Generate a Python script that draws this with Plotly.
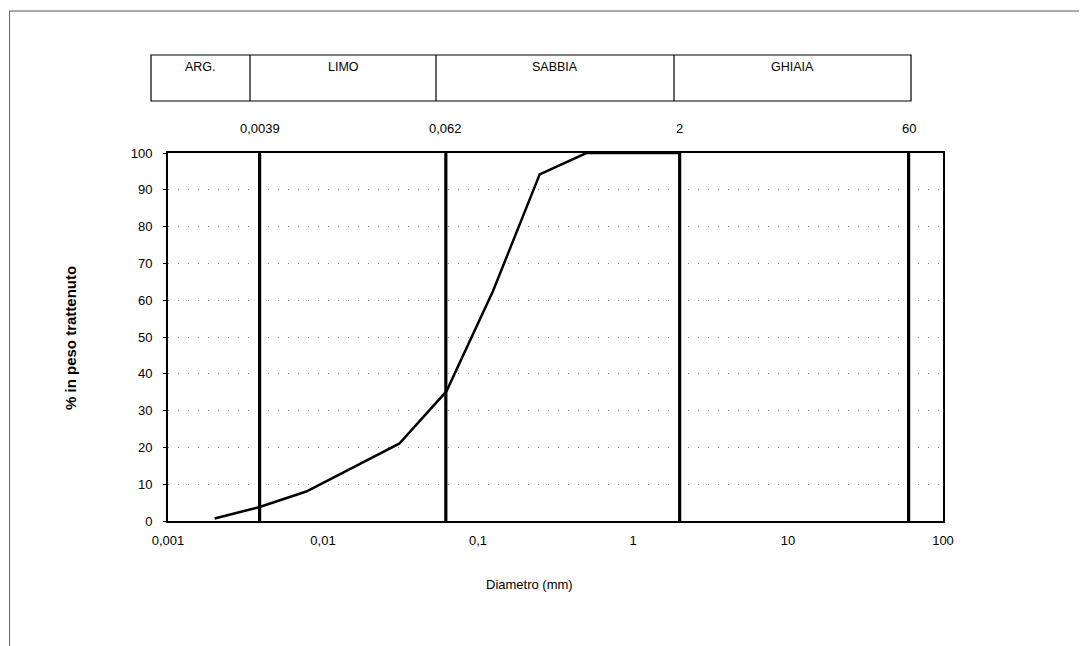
import numpy as np
import plotly.graph_objects as go

# ---- data ----
diametro_mm = [0.002, 0.0039, 0.0078, 0.0156, 0.031, 0.0625, 0.125, 0.25, 0.5, 1, 2]
percento_trattenuto = [0.7, 3.8, 8.0, 14.5, 21.0, 35.2, 62.5, 94.2, 100, 100, 100]

limiti_classi = [0.0039, 0.062, 2, 60]
limiti_etichette = ["0,0039", "0,062", "2", "60"]

classi = ["ARG.", "LIMO", "SABBIA", "GHIAIA"]

x_tickvals = [0.001, 0.01, 0.1, 1, 10, 100]
x_ticktext = ["0,001", "0,01", "0,1", "1", "10", "100"]
y_tickvals = list(range(0, 101, 10))

FONT = "Liberation Sans, Arial, sans-serif"

# page geometry (pixels of the 1087x646 page); the html body has an 8px margin
OFF = 8
PW, PH = 1087, 646
W, H = PW - OFF, PH - OFF
L, R, T, B = 168, 943, 153, 521          # plot area in page pixels
pw, ph = R - L, B - T


def px(xpix):
    return (xpix - L) / pw


def py(ypix):
    return (B - ypix) / ph


fig = go.Figure()

# vertical class-boundary lines
vx, vy = [], []
for b in limiti_classi:
    vx += [b, b, None]
    vy += [0, 100, None]
fig.add_trace(go.Scatter(x=vx, y=vy, mode="lines",
                         line=dict(color="black", width=3.2),
                         hoverinfo="skip", showlegend=False))

# grain size curve
fig.add_trace(go.Scatter(x=diametro_mm, y=percento_trattenuto, mode="lines",
                         line=dict(color="black", width=2.5),
                         showlegend=False))

shapes = []
# outer scan frame (top and left edges)
shapes.append(dict(type="line", xref="paper", yref="paper",
                   x0=px(9.5), x1=px(PW + 5), y0=py(11), y1=py(11),
                   line=dict(color="#555", width=1)))
shapes.append(dict(type="line", xref="paper", yref="paper",
                   x0=px(9.5), x1=px(9.5), y0=py(11), y1=py(PH + 5),
                   line=dict(color="#666", width=1)))

# class table above the plot
col_edges_px = [151, 250, 436, 674, 911]
tab_top, tab_bot = 55, 101
shapes.append(dict(type="rect", xref="paper", yref="paper",
                   x0=px(col_edges_px[0]), x1=px(col_edges_px[-1]),
                   y0=py(tab_bot), y1=py(tab_top),
                   line=dict(color="black", width=1.2)))
for e in col_edges_px[1:-1]:
    shapes.append(dict(type="line", xref="paper", yref="paper",
                       x0=px(e), x1=px(e), y0=py(tab_bot), y1=py(tab_top),
                       line=dict(color="black", width=1.2)))

annotations = []
for i, name in enumerate(classi):
    cx = (col_edges_px[i] + col_edges_px[i + 1]) / 2
    annotations.append(dict(xref="paper", yref="paper", x=px(cx), y=py(67),
                            xanchor="center", yanchor="middle",
                            text=name, showarrow=False,
                            font=dict(family=FONT, size=12.5, color="black")))

for b, lab in zip(limiti_classi, limiti_etichette):
    annotations.append(dict(xref="x", yref="paper", x=float(np.log10(b)), y=py(128),
                            xanchor="center", yanchor="middle",
                            text=lab, showarrow=False,
                            font=dict(family=FONT, size=13, color="black")))

# axis titles
annotations.append(dict(xref="paper", yref="paper", x=px(70), y=py(338),
                        xanchor="center", yanchor="middle",
                        text="<b>% in peso trattenuto</b>", textangle=-90,
                        showarrow=False,
                        font=dict(family=FONT, size=15, color="black")))
annotations.append(dict(xref="paper", yref="paper", x=px(529), y=py(584),
                        xanchor="center", yanchor="middle",
                        text="Diametro (mm)", showarrow=False,
                        font=dict(family=FONT, size=13, color="black")))

fig.update_layout(
    width=W, height=H,
    margin=dict(l=L - OFF, r=PW - R, t=T - OFF, b=PH - B, pad=0),
    paper_bgcolor="white", plot_bgcolor="white",
    font=dict(family=FONT, size=13, color="black"),
    shapes=shapes, annotations=annotations,
    showlegend=False,
)

fig.update_xaxes(type="log", range=[-3, 2],
                 tickvals=x_tickvals, ticktext=x_ticktext,
                 showgrid=False, zeroline=False,
                 showline=True, linecolor="black", linewidth=1.5, mirror=True,
                 ticks="", ticklabelstandoff=7,
                 tickfont=dict(family=FONT, size=13, color="black"))
fig.update_yaxes(range=[0, 100], tickvals=y_tickvals,
                 showgrid=True, gridcolor="#8a8a8a", griddash="1px,9px", gridwidth=1,
                 zeroline=False,
                 showline=True, linecolor="black", linewidth=2, mirror=True,
                 ticks="outside", ticklen=3, tickcolor="black",
                 ticklabelstandoff=8,
                 tickfont=dict(family=FONT, size=13, color="black"))

fig.write_html("out.html")
